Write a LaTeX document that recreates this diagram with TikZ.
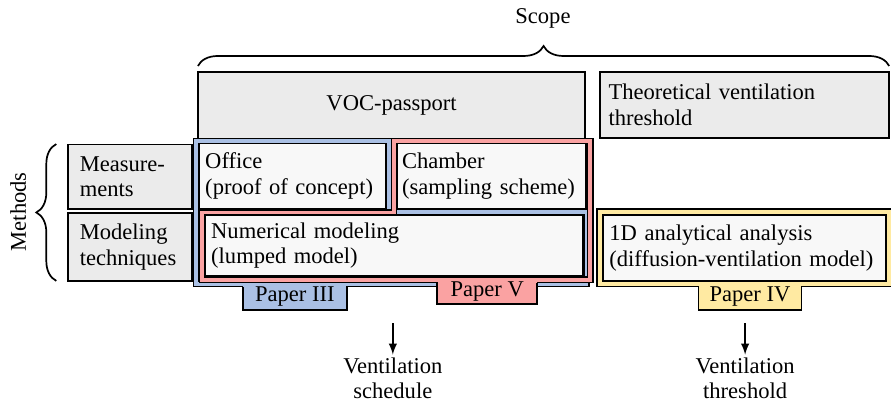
\documentclass[tikz,border=0pt]{standalone}
\usepackage{fontspec}
\setmainfont{Liberation Serif}[Scale=1.06]
\usetikzlibrary{decorations.pathreplacing}

\definecolor{paperblue}{RGB}{170,192,228}
\definecolor{paperred}{RGB}{250,162,162}
\definecolor{paperyellow}{RGB}{255,234,162}
\definecolor{boxgray}{RGB}{235,235,235}
\definecolor{boxwhite}{RGB}{248,248,248}

\begin{document}
\begin{tikzpicture}[
	box/.style={draw, line width=.8pt, fill=boxgray},
	inbox/.style={draw, line width=.8pt, fill=boxwhite, align=left, inner xsep=3pt, minimum height=1.08cm},
	frame/.style={draw=black, line width=.7pt, double distance=1.8pt, line join=miter},
	tab/.style={fill=#1, minimum height=.43cm, inner sep=0pt},
	tabside/.style={line width=.8pt, shorten <=1.6pt, shorten >=1.6pt},
	brace/.style={decorate, decoration={brace, amplitude=.33cm}, line width=.8pt},
	outcome/.style={align=center, inner sep=1.2pt}]
\useasboundingbox (0,0) rectangle (14.72,-6.64);

% scope and methods
\draw[brace] (3.27,-1.09) -- (14.69,-1.09);
\node (scope) at (8.97,-0.30) {Scope};
\draw[brace] (0.93,-4.64) -- (0.93,-2.38);
\node[rotate=90] (methods) at (0.30,-3.50) {Methods};

\node[box, minimum width=6.39cm, minimum height=1.11cm] (voc) at (6.47,-1.74) {VOC-passport};
\node[box, align=left, inner xsep=4pt, text width=127.8pt, minimum height=1.09cm] (theo) at (12.30,-1.73) {\mbox{Theoretical ventilation}\\threshold};
\node[box, align=left, inner xsep=5.5pt, text width=47.3pt, minimum height=1.07cm] (meas) at (2.15,-2.92) {Measure-\\ments};
\node[box, align=left, inner xsep=5.5pt, text width=47.3pt, minimum height=1.12cm] (model) at (2.15,-4.08) {Modeling\\techniques};

% paper frames
\draw[frame, double=paperblue] (3.24,-2.33) -- (6.43,-2.33) -- (6.43,-3.50) -- (9.69,-3.50) -- (9.69,-4.69) -- (3.24,-4.69) -- cycle;
\draw[frame, double=paperred] (6.51,-2.33) -- (9.75,-2.33) -- (9.75,-4.62) -- (3.34,-4.62) -- (3.34,-3.51) -- (6.51,-3.51) -- cycle;
\draw[frame, double=paperyellow] (9.91,-3.50) rectangle (14.69,-4.69);

\node[inbox, text width=81.9pt] (office) at (4.83,-2.91) {Office\\\mbox{(proof of concept)}};
\node[inbox, inner xsep=2.5pt, text width=84.1pt] (chamber) at (8.12,-2.91) {Chamber\\\mbox{(sampling scheme)}};
\node[inbox, text width=171.9pt, minimum height=1.01cm] (num) at (6.51,-4.06) {Numerical modeling\\(lumped model)};
\node[inbox, text width=127pt, minimum height=1.09cm] (ana) at (12.30,-4.10) {\mbox{1D analytical analysis}\\\mbox{(diffusion-ventilation model)}};

% tabs
\node[tab=paperblue, minimum width=1.70cm] (p3) at (4.87,-4.905) {Paper III};
\draw[tabside] (p3.north west) |- (p3.south east) -- (p3.north east);
\node[tab=paperred, minimum width=1.64cm, minimum height=.40cm] (p5) at (8.05,-4.82) {Paper V};
\draw[tabside] (p5.north west) |- (p5.south east) -- (p5.north east);
\node[tab=paperyellow, minimum width=1.69cm] (p4) at (12.39,-4.905) {Paper IV};
\draw[tabside] (p4.north west) |- (p4.south east) -- (p4.north east);

% outcomes
\coordinate (schedtop) at (6.49,-5.34);
\coordinate (threshtop) at (12.31,-5.34);
\node[outcome] (sched) at (6.49,-6.25) {Ventilation\\schedule};
\node[outcome] (thresh) at (12.31,-6.25) {Ventilation\\threshold};
\draw[-latex, line width=.8pt] (schedtop) -- (sched);
\draw[-latex, line width=.8pt] (threshtop) -- (thresh);
\end{tikzpicture}
\end{document}
